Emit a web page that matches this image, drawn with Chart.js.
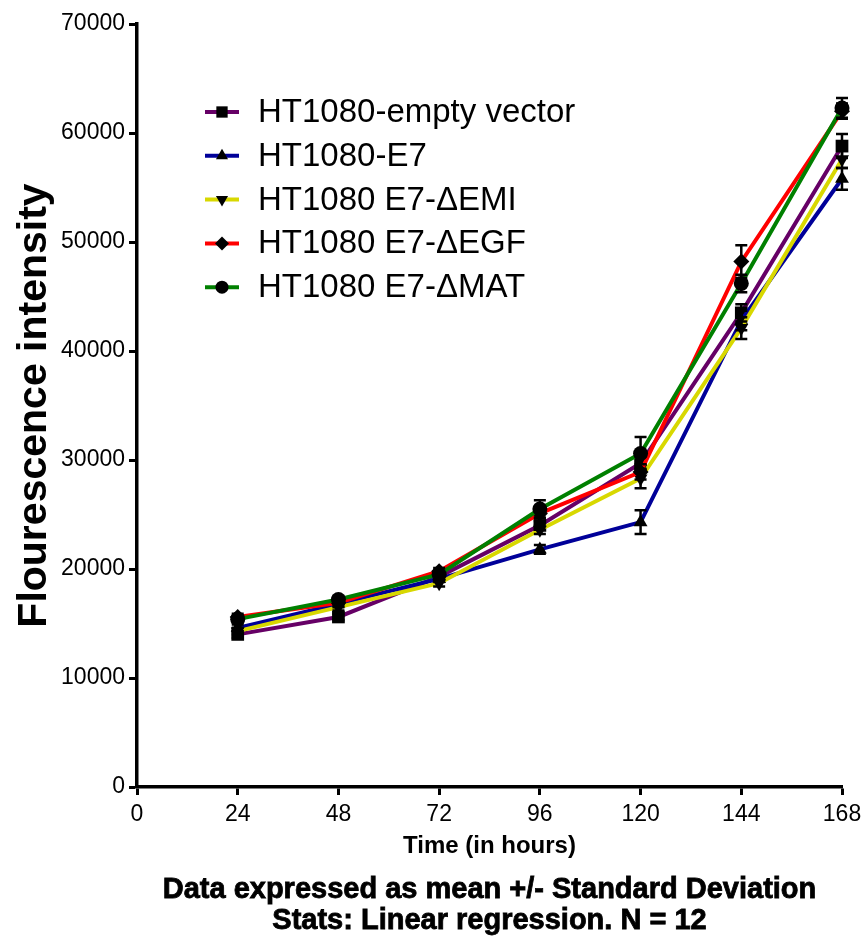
<!DOCTYPE html>
<html>
<head>
<meta charset="utf-8">
<script src="https://cdn.jsdelivr.net/npm/chart.js@4.4.1/dist/chart.umd.min.js"></script>
<style>
  html, body { margin: 0; padding: 0; background: #fff; }
</style>
</head>
<body>
<canvas id="chart" width="865" height="946"></canvas>
<script>
const hours = [24, 48, 72, 96, 120, 144, 168];
const xTicks = [0, 24, 48, 72, 96, 120, 144, 168];

const seriesNames = [
  'HT1080-empty vector',
  'HT1080-E7',
  'HT1080 E7-\u0394EMI',
  'HT1080 E7-\u0394EGF',
  'HT1080 E7-\u0394MAT'
];

const notes = [
  'Data expressed as mean +/- Standard Deviation',
  'Stats: Linear regression. N = 12'
];

// means
const emptyVector = [14000, 15600, 19300, 24000, 29700, 43500, 58800];
const e7 = [14600, 16800, 19100, 21800, 24300, 42800, 55800];
const e7Emi = [14300, 16500, 18700, 23600, 28300, 42100, 57600];
const e7Egf = [15600, 16900, 19800, 25100, 28900, 48200, 62000];
const e7Mat = [15400, 17200, 19500, 25500, 30600, 46200, 62300];

// standard deviations
const emptyVectorSd = [300, 300, 300, 400, 600, 800, 1100];
const e7Sd = [300, 300, 300, 400, 1100, 900, 1000];
const e7EmiSd = [300, 300, 300, 400, 900, 1000, 800];
const e7EgfSd = [300, 300, 300, 400, 700, 1500, 700];
const e7MatSd = [300, 300, 300, 800, 1500, 800, 900];

const COLORS = ['#660066', '#000099', '#d8d800', '#ff0000', '#008000'];
const MARKERS = [
  { style: 'rect', radius: 9, rotation: 0 },
  { style: 'triangle', radius: 8, rotation: 0 },
  { style: 'triangle', radius: 8, rotation: 180 },
  { style: 'rectRot', radius: 8, rotation: 0 },
  { style: 'circle', radius: 7.5, rotation: 0 }
];

const means = [emptyVector, e7, e7Emi, e7Egf, e7Mat];
const sds = [emptyVectorSd, e7Sd, e7EmiSd, e7EgfSd, e7MatSd];

const FONT = '"Liberation Sans", Arial, sans-serif';

function toPoints(values) {
  return hours.map((h, i) => ({ x: h, y: values[i] }));
}

const errorBars = {
  id: 'errorBars',
  afterDatasetsDraw(chart) {
    const { ctx, scales: { x, y } } = chart;
    ctx.save();
    ctx.strokeStyle = '#000';
    ctx.lineWidth = 2.5;
    means.forEach((vals, s) => {
      vals.forEach((v, i) => {
        const px = x.getPixelForValue(hours[i]);
        const top = y.getPixelForValue(v + sds[s][i]);
        const bot = y.getPixelForValue(v - sds[s][i]);
        ctx.beginPath();
        ctx.moveTo(px, top);
        ctx.lineTo(px, bot);
        ctx.moveTo(px - 6, top);
        ctx.lineTo(px + 6, top);
        ctx.moveTo(px - 6, bot);
        ctx.lineTo(px + 6, bot);
        ctx.stroke();
      });
    });
    ctx.restore();
  }
};

const innerLegend = {
  id: 'innerLegend',
  afterDraw(chart) {
    const { ctx, chartArea } = chart;
    const x0 = chartArea.left + 68;
    const y0 = chartArea.top + 88;
    ctx.save();
    ctx.font = '33px ' + FONT;
    ctx.textBaseline = 'middle';
    seriesNames.forEach((name, i) => {
      const y = y0 + i * 43.8;
      ctx.strokeStyle = COLORS[i];
      ctx.lineWidth = 4;
      ctx.beginPath();
      ctx.moveTo(x0, y);
      ctx.lineTo(x0 + 34, y);
      ctx.stroke();
      ctx.fillStyle = '#000';
      Chart.helpers.drawPoint(ctx, {
        pointStyle: MARKERS[i].style,
        radius: MARKERS[i].radius - 1,
        rotation: MARKERS[i].rotation,
        borderWidth: 0
      }, x0 + 17, y);
      ctx.fillStyle = '#000';
      ctx.fillText(name, x0 + 53, y + 1);
    });
    ctx.restore();
  }
};

// footnote under the x axis, centred on the plot area
const footNotes = {
  id: 'footNotes',
  afterDraw(chart) {
    const { ctx, chartArea } = chart;
    const cx = (chartArea.left + chartArea.right) / 2;
    ctx.save();
    ctx.font = 'bold 29px ' + FONT;
    ctx.textAlign = 'center';
    ctx.textBaseline = 'middle';
    ctx.fillStyle = '#000';
    ctx.strokeStyle = '#000';
    ctx.lineWidth = 0.8;
    notes.forEach((line, i) => {
      const y = chartArea.bottom + 103 + i * 31;
      ctx.fillText(line, cx, y);
      ctx.strokeText(line, cx, y);
    });
    ctx.restore();
  }
};

function zeroPadding(scale) {
  scale.paddingLeft = 0;
  scale.paddingRight = 0;
  scale.paddingTop = 0;
  scale.paddingBottom = 0;
}

new Chart(document.getElementById('chart'), {
  type: 'line',
  data: {
    datasets: means.map((vals, i) => ({
      label: seriesNames[i],
      data: toPoints(vals),
      borderColor: COLORS[i],
      borderWidth: 4,
      backgroundColor: COLORS[i],
      pointStyle: MARKERS[i].style,
      pointRadius: MARKERS[i].radius,
      pointRotation: MARKERS[i].rotation,
      pointBackgroundColor: '#000',
      pointBorderColor: '#000',
      pointBorderWidth: 0,
      tension: 0,
      clip: false,
      order: 5 - i
    }))
  },
  options: {
    responsive: false,
    animation: false,
    layout: { padding: { top: 24, right: 23, left: 0, bottom: 73 } },
    plugins: {
      legend: { display: false },
      tooltip: { enabled: false }
    },
    scales: {
      x: {
        type: 'linear',
        min: 0,
        max: 168,
        afterBuildTicks: (scale) => { scale.ticks = xTicks.map(v => ({ value: v })); },
        afterFit: (scale) => { scale.height = 86; zeroPadding(scale); },
        border: { color: '#000', width: 3.5 },
        grid: { drawOnChartArea: false, tickLength: 8, tickWidth: 3, tickColor: '#000' },
        ticks: {
          color: '#000',
          padding: 6,
          maxRotation: 0,
          callback: (v) => String(v),
          font: { family: FONT, size: 23 }
        },
        title: {
          display: true,
          text: 'Time (in hours)',
          color: '#000',
          font: { family: FONT, size: 24, weight: 'bold' },
          padding: { top: 0, bottom: 12 }
        }
      },
      y: {
        min: 0,
        max: 70000,
        afterFit: (scale) => { scale.width = 137; zeroPadding(scale); },
        border: { color: '#000', width: 3.5 },
        grid: { drawOnChartArea: false, tickLength: 8, tickWidth: 3, tickColor: '#000' },
        ticks: {
          stepSize: 10000,
          color: '#000',
          padding: 4,
          callback: (v) => String(v),
          font: { family: FONT, size: 23 }
        },
        title: {
          display: true,
          text: 'Flourescence intensity',
          color: '#000',
          font: { family: FONT, size: 41, weight: 'bold' },
          padding: { top: 10, bottom: 0 }
        }
      }
    }
  },
  plugins: [errorBars, innerLegend, footNotes]
});
</script>
</body>
</html>
